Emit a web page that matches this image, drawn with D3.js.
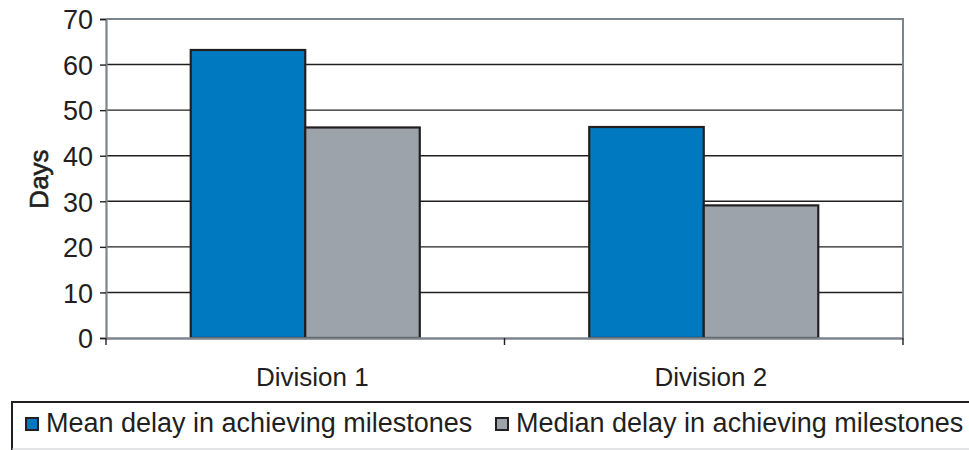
<!DOCTYPE html>
<html>
<head>
<meta charset="utf-8">
<script src="https://cdn.jsdelivr.net/npm/d3@7"></script>
<style>
  html, body { margin: 0; padding: 0; background: #fff; }
  svg { display: block; font-family: "Liberation Sans", Arial, sans-serif; }
</style>
</head>
<body>
<svg id="chart" width="969" height="450"></svg>
<script>
// Chart data
const categories = ["Division 1", "Division 2"];
const seriesNames = ["Mean delay in achieving milestones", "Median delay in achieving milestones"];
const meanDelay = [63.2, 46.3];
const medianDelay = [46.2, 29.1];
const yTicks = [0, 10, 20, 30, 40, 50, 60, 70];
const seriesColors = ["#0079c1", "#9ca3aa"];

const seriesValues = [meanDelay, medianDelay];
const FONT = "'Liberation Sans', Arial, sans-serif";
const INK = "#231f20";

const svg = d3.select("#chart");
const plot = { left: 106, right: 903, top: 19, bottom: 338 };

const x = d3.scaleBand().domain(categories).range([plot.left, plot.right]).paddingInner(0).paddingOuter(0);
const xInner = d3.scaleBand().domain(seriesNames).range([0, x.bandwidth()]).paddingInner(0).paddingOuter(0.74);
const y = d3.scaleLinear().domain([0, 70]).range([plot.bottom, plot.top]);

// Gridlines
svg.append("g")
  .selectAll("line")
  .data(yTicks.filter(t => t > 0 && t < 70))
  .join("line")
  .attr("x1", plot.left).attr("x2", plot.right)
  .attr("y1", d => y(d)).attr("y2", d => y(d))
  .attr("stroke", INK).attr("stroke-width", 1.4);

// Plot frame (top and right)
svg.append("path")
  .attr("d", `M${plot.left},${plot.top}H${plot.right}V${plot.bottom}`)
  .attr("fill", "none").attr("stroke", "#7d858c").attr("stroke-width", 2);

// Bars
const groups = svg.append("g").selectAll("g")
  .data(categories)
  .join("g")
  .attr("transform", d => `translate(${x(d)},0)`);

groups.selectAll("rect")
  .data((d, i) => seriesNames.map((s, j) => ({ s, j, v: seriesValues[j][i] })))
  .join("rect")
  .attr("x", d => xInner(d.s))
  .attr("width", xInner.bandwidth())
  .attr("y", d => y(d.v))
  .attr("height", d => y(0) - y(d.v))
  .attr("fill", d => seriesColors[d.j])
  .attr("stroke", INK).attr("stroke-width", 2.2);

// Y axis
const yAxis = svg.append("g")
  .attr("transform", `translate(${plot.left},0)`)
  .call(d3.axisLeft(y).tickValues(yTicks).tickSize(6).tickPadding(7).tickFormat(d3.format("d")));
yAxis.select(".domain").attr("stroke", "#7d858c").attr("stroke-width", 2.2);
yAxis.selectAll(".tick line").attr("stroke", INK).attr("stroke-width", 1.4);
yAxis.selectAll("text").attr("font-size", 27).attr("fill", INK)
  .attr("font-family", FONT).attr("dy", "0.36em");

// X axis
const xAxis = svg.append("g")
  .attr("transform", `translate(0,${plot.bottom})`)
  .call(d3.axisBottom(x).tickSize(0));
xAxis.select(".domain").attr("stroke", "#7d858c").attr("stroke-width", 2.4);
xAxis.selectAll("text").attr("font-size", 26).attr("fill", INK)
  .attr("font-family", FONT).attr("x", 7).attr("y", 48).attr("dy", 0);

// Category boundary ticks
const boundaries = [plot.left, x(categories[1]), plot.right];
svg.append("g").selectAll("line")
  .data(boundaries)
  .join("line")
  .attr("x1", d => d).attr("x2", d => d)
  .attr("y1", plot.bottom).attr("y2", plot.bottom + 7)
  .attr("stroke", INK).attr("stroke-width", 1.4);

// Y axis title
svg.append("text")
  .attr("transform", `translate(48,179) rotate(-90)`)
  .attr("text-anchor", "middle")
  .attr("font-size", 26).attr("fill", INK)
  .attr("stroke", INK).attr("stroke-width", 0.6)
  .text("Days");

// Legend
const legend = svg.append("g");
legend.append("path")
  .attr("d", "M971,402H12V452")
  .attr("fill", "none").attr("stroke", INK).attr("stroke-width", 2);
legend.append("line")
  .attr("x1", 12).attr("x2", 969).attr("y1", 449).attr("y2", 449)
  .attr("stroke", "#c8cacc").attr("stroke-width", 1.2);

const legendX = [26, 496];
const items = legend.selectAll("g.item")
  .data(seriesNames)
  .join("g")
  .attr("class", "item")
  .attr("transform", (d, i) => `translate(${legendX[i]},418)`);
items.append("rect")
  .attr("x", 0).attr("y", 0).attr("width", 12).attr("height", 12)
  .attr("fill", (d, i) => seriesColors[i])
  .attr("stroke", INK).attr("stroke-width", 2);
items.append("text")
  .attr("x", 20).attr("y", 14)
  .attr("font-size", 27).attr("fill", INK)
  .text(d => d);
</script>
</body>
</html>
